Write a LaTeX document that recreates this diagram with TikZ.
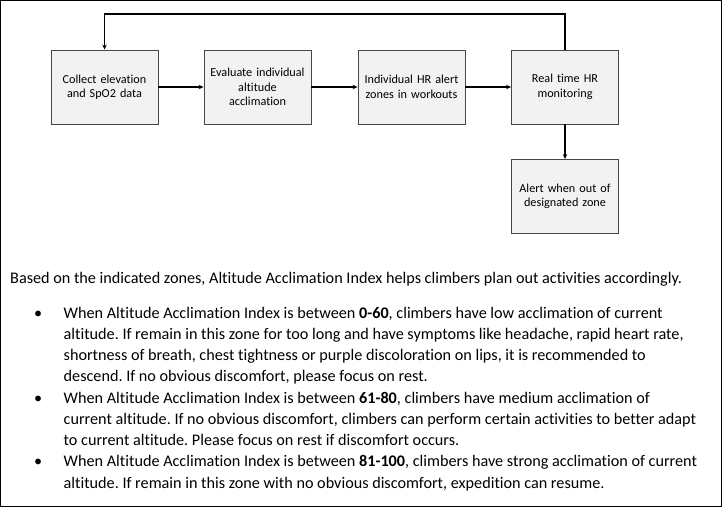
\documentclass[tikz,border=0pt]{standalone}
\usepackage{fontspec}
\setmainfont{Carlito}[Ligatures={NoCommon}]
\usetikzlibrary{arrows.meta,calc}
\frenchspacing
\begin{document}
\begin{tikzpicture}[x=1pt,y=1pt,
  flowbox/.style={draw={rgb,255:red,70;green,70;blue,70},fill={rgb,255:red,242;green,242;blue,242},line width=0.9pt,
    minimum width=105pt,minimum height=74pt,inner sep=2pt,align=center,
    font=\fontsize{12.2}{14.5}\selectfont,text width=103pt},
  flow/.style={line width=1.4pt,-{Stealth[length=5pt,width=4.5pt]}},
  para/.style={anchor=base west,inner sep=0pt,font=\fontsize{16.2}{21.25}\selectfont}
]
\useasboundingbox (0,0) rectangle (722,-507);
\draw[line width=1pt] (0.5,-0.5) rectangle (721,-506);
\node[flowbox] (b1) at (104.5,-87) {Collect elevation\\and SpO2 data};
\node[flowbox] (b2) at (257.5,-87) {Evaluate individual\\altitude\\acclimation};
\node[flowbox] (b3) at (411.5,-87) {Individual HR alert\\zones in workouts};
\node[flowbox] (b4) at (565,-87) {Real time HR\\monitoring};
\node[flowbox] (b5) at (565,-196.5) {Alert when out of\\designated zone};
\coordinate (top) at (0,-14);
\draw[flow] (b1) -- (b2);
\draw[flow] (b2) -- (b3);
\draw[flow] (b3) -- (b4);
\draw[flow] (b4) -- (b5);
\draw[flow] (b4.north) |- (top -| b1.north) -- (b1.north);
\node[para] (intro) at (10,-283) {Based on the indicated zones, Altitude Acclimation Index helps climbers plan out activities accordingly.};
\node[para] (d1) at (34,-318) {•};
\node[para] (l1) at (63.5,-318) {When Altitude Acclimation Index is between \textbf{0-60}, climbers have low acclimation of current};
\node[para] (l2) at (63.5,-339.25) {altitude. If remain in this zone for too long and have symptoms like headache, rapid heart rate,};
\node[para] (l3) at (63.5,-360.5) {shortness of breath, chest tightness or purple discoloration on lips, it is recommended to};
\node[para] (l4) at (63.5,-381.75) {descend. If no obvious discomfort, please focus on rest.};
\node[para] (d2) at (34,-403) {•};
\node[para] (l5) at (63.5,-403) {When Altitude Acclimation Index is between \textbf{61-80}, climbers have medium acclimation of};
\node[para] (l6) at (63.5,-424.25) {current altitude. If no obvious discomfort, climbers can perform certain activities to better adapt};
\node[para] (l7) at (63.5,-445.5) {to current altitude. Please focus on rest if discomfort occurs.};
\node[para] (d3) at (34,-466.75) {•};
\node[para] (l8) at (63.5,-466.75) {When Altitude Acclimation Index is between \textbf{81-100}, climbers have strong acclimation of current};
\node[para] (l9) at (63.5,-488) {altitude. If remain in this zone with no obvious discomfort, expedition can resume.};
\end{tikzpicture}
\end{document}
